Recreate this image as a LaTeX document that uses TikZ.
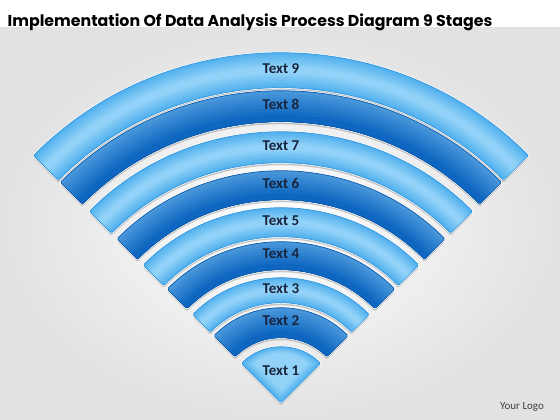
\documentclass[tikz,border=0pt]{standalone}
\usepackage{fontspec}
\setmainfont{Carlito}
\newfontfamily\titlefont{Poppins}
\usetikzlibrary{calc}
\definecolor{bggray}{RGB}{226,226,226}
\definecolor{lightband}{RGB}{84,178,238}
\definecolor{lighttop}{RGB}{146,210,248}
\definecolor{lightedge}{RGB}{52,150,222}
\definecolor{darkband}{RGB}{72,150,218}
\definecolor{darklow}{RGB}{14,102,192}
\definecolor{darkedge}{RGB}{12,90,170}
\definecolor{labeltext}{RGB}{24,36,60}
\tikzset{%
	bandshadow/.style = {fill=black, opacity=0.2, transform canvas={yshift=-2.5pt}},
	bandhalo/.style   = {draw=white, line width=2pt},
	bandlabel/.style  = {text=labeltext, font=\bfseries\fontsize{15}{18}\selectfont},
	titletext/.style  = {text=black, font=\titlefont\bfseries\fontsize{15.8}{19}\selectfont},
	logotext/.style   = {text=black!75, font=\fontsize{11}{13}\selectfont},
}
% one ring of the fan, outer and inner radius
\newcommand{\ringpath}[2]{(O) ++(45:#1) arc[start angle=45,end angle=135,radius=#1 pt] -- ++(-45:{#1-#2}) arc[start angle=135,end angle=45,radius=#2 pt] -- cycle}

\begin{document}
\begin{tikzpicture}[x=1pt,y=1pt,rounded corners=1.5pt]
	\useasboundingbox (0,0) rectangle (560,420);
	\fill[white,sharp corners] (0,0) rectangle (560,420);
	\shade[inner color=white, outer color=bggray,sharp corners] (0,0) rectangle (560,392);
	
	\node[titletext] (title) at (250,398) {Implementation Of Data Analysis Process Diagram 9 Stages};
	\node[logotext] (logo) at (522,13) {Your Logo};
	
	\coordinate (O) at (281,17);
	
	\foreach \n/\ro/\ri in {9/350/315, 8/312/281, 7/271/240, 6/232/203, 5/195/166, 4/161/133, 3/125/100, 2/95/65}{
		\fill[bandshadow] \ringpath{\ro}{\ri};
		\draw[bandhalo] \ringpath{\ro}{\ri};
		\ifodd\n
			\foreach \k in {0,...,6}{
				\pgfmathsetmacro\ra{\ro-(\ro-\ri)*\k/15}
				\pgfmathsetmacro\rb{\ri+(\ro-\ri)*\k/15}
				\pgfmathsetmacro\mk{100-\k*100/6}
				\fill[lightband!\mk!lighttop] \ringpath{\ra}{\rb};
			}
			\draw[lightedge, line width=0.7pt] \ringpath{\ro}{\ri};
		\else
			\foreach \k in {0,...,7}{
				\pgfmathsetmacro\ra{\ro-(\ro-\ri)*\k/9}
				\pgfmathsetmacro\mk{\k*100/7}
				\fill[darklow!\mk!darkband] \ringpath{\ra}{\ri};
			}
			\draw[darkedge, line width=0.7pt] \ringpath{\ro}{\ri};
		\fi
		\path (O) ++(90:{(\ro+\ri)/2+2}) node[bandlabel] (t\n) {Text \n};
	}
	
	% stage 1, the tip of the fan
	\fill[bandshadow] (O) -- ++(45:56) arc[start angle=45,end angle=135,radius=56pt] -- cycle;
	\draw[bandhalo] (O) -- ++(45:56) arc[start angle=45,end angle=135,radius=56pt] -- cycle;
	\foreach \k in {0,...,6}{
		\pgfmathsetmacro\ra{56-\k*3}
		\pgfmathsetmacro\mk{100-\k*100/6}
		\fill[lightband!\mk!lighttop] ($(O)+(0,\k*2)$) -- ++(45:\ra) arc[start angle=45,end angle=135,radius=\ra pt] -- cycle;
	}
	\draw[lightedge, line width=0.7pt] (O) -- ++(45:56) arc[start angle=45,end angle=135,radius=56pt] -- cycle;
	\path (O) ++(90:32) node[bandlabel] (t1) {Text 1};
\end{tikzpicture}
\end{document}
